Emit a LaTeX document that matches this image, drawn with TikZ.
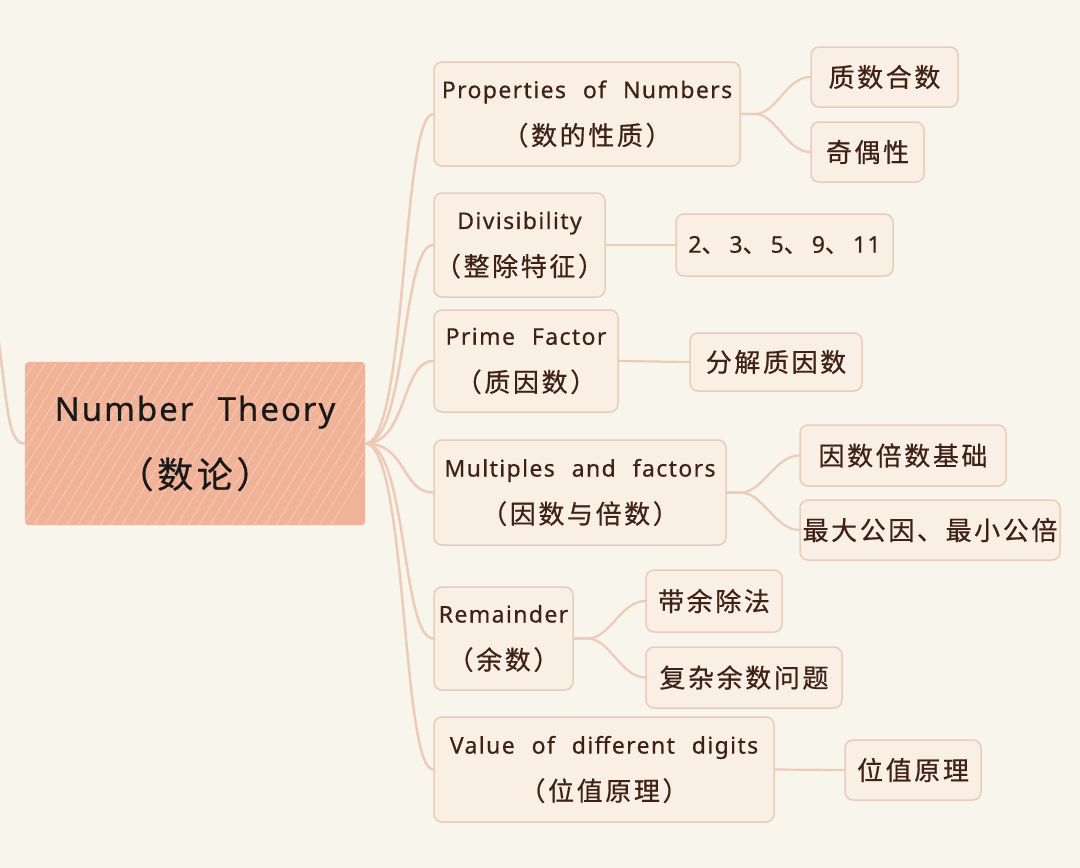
\documentclass[tikz,border=0pt]{standalone}
\usepackage{fontspec}
\usetikzlibrary{backgrounds}
\newfontfamily\enf{Noto Sans}[LetterSpace=6,WordSpace=2.3,FakeBold=0.5]
\newfontfamily\zhf{Noto Sans CJK SC}[LetterSpace=10,FakeBold=0.6]
\definecolor{bgcol}{HTML}{F8F5EC}
\definecolor{boxfill}{HTML}{FAEFE4}
\definecolor{boxline}{HTML}{E9CDB9}
\definecolor{conncol}{HTML}{EDCBB6}
\definecolor{rootcol}{HTML}{F0B397}
\definecolor{txtcol}{HTML}{3E2117}
\newcommand\twol[2]{{\enf\fontsize{23}{47}\selectfont #1}\\{\zhf\fontsize{26}{47}\selectfont #2}}
\newcommand\zh[1]{{\zhf\fontsize{26}{30}\selectfont #1}}
\newcommand\dun{{\zhf 、}\hspace{5pt}}
\tikzset{
  mainbox/.style={draw=boxline, line width=1.5pt, fill=boxfill, rounded corners=8pt,
    inner sep=0pt, align=center, text=txtcol, font=\fontsize{23}{47}\selectfont},
  leafbox/.style={draw=boxline, line width=1.5pt, fill=boxfill, rounded corners=8pt,
    inner sep=0pt, align=center, text=txtcol},
  rootbox/.style={inner sep=0pt, align=center, text=black!90, minimum width=340pt, minimum height=163pt,
    font=\fontsize{33}{67}\selectfont},
  conn/.style={draw=conncol, line width=2.5pt, line cap=round},
  subconn/.style={draw=conncol, line width=2.2pt, line cap=round},
}
\begin{document}
\begin{tikzpicture}[x=1pt,y=-1pt]
\useasboundingbox (0,0) rectangle (1080,868);
% root
\node[rootbox] (root) at (195,443.5) {{\enf Number Theory}\\{\zhf\fontsize{36}{67}\selectfont （数论）}};
\begin{scope}[on background layer]
  \fill[bgcol] (0,0) rectangle (1080,868);
  \fill[rootcol, rounded corners=4pt] (root.south west) rectangle (root.north east);
  \begin{scope}
    \clip (root.south west) rectangle (root.north east);
    \foreach \i in {0,...,36} {
      \draw[white, opacity=0.28, line width=0.9pt] ([xshift=\i*11pt-90pt]root.south west) -- ++(100,-163);
    }
  \end{scope}
\end{scope}
% first level
\node[mainbox, minimum width=306pt, minimum height=104pt] (p1) at (587,114) {\twol{Properties of Numbers}{（数的性质）}};
\node[mainbox, minimum width=171pt, minimum height=104pt] (p2) at (519.5,245) {\twol{Divisibility}{（整除特征）}};
\node[mainbox, minimum width=184pt, minimum height=102pt] (p3) at (526,361) {\twol{Prime Factor}{（质因数）}};
\node[mainbox, minimum width=292pt, minimum height=105pt] (p4) at (580,492.5) {\twol{Multiples and factors}{（因数与倍数）}};
\node[mainbox, minimum width=139pt, minimum height=103pt] (p5) at (503.5,638.5) {\twol{Remainder}{（余数）}};
\node[mainbox, minimum width=340pt, minimum height=105pt] (p6) at (604,769.5) {\twol{Value of different digits}{（位值原理）}};
% leaves
\node[leafbox, minimum width=147pt, minimum height=60pt] (p1a) at (884.5,77) {\zh{质数合数}};
\node[leafbox, minimum width=113pt, minimum height=60pt] (p1b) at (867.5,152) {\zh{奇偶性}};
\node[leafbox, minimum width=217pt, minimum height=62pt] (p2a) at (784.5,245) {{\enf\fontsize{23}{30}\selectfont 2\dun 3\dun 5\dun 9\dun 11}};
\node[leafbox, minimum width=172pt, minimum height=58pt] (p3a) at (776,362) {\zh{分解质因数}};
\node[leafbox, minimum width=206pt, minimum height=61pt] (p4a) at (903,455.5) {\zh{因数倍数基础}};
\node[leafbox, minimum width=260pt, minimum height=60pt] (p4b) at (930,530) {\zh{最大公因、最小公倍}};
\node[leafbox, minimum width=136pt, minimum height=62pt] (p5a) at (714,601) {\zh{带余除法}};
\node[leafbox, minimum width=196pt, minimum height=61pt] (p5b) at (744,677.5) {\zh{复杂余数问题}};
\node[leafbox, minimum width=136pt, minimum height=60pt] (p6a) at (913,770) {\zh{位值原理}};
% connectors from root
\coordinate (prev) at (-3,328);
\draw[conn] (prev) .. controls (8,410) and (8,443.5) .. (root.west);
\foreach \c in {p1,p2,p3,p4,p5,p6} {
  \draw[conn] (root.east) .. controls +(42,0) and +(-32,0) .. (\c.west);
}
% sub connectors
\draw[subconn] (p1.east) -- ++(14,0) .. controls +(22,0) and +(-24,0) .. (p1a.west);
\draw[subconn] (p1.east) -- ++(14,0) .. controls +(22,0) and +(-24,0) .. (p1b.west);
\draw[subconn] (p2.east) -- (p2a.west);
\draw[subconn] (p3.east) -- (p3a.west);
\draw[subconn] (p4.east) -- ++(14,0) .. controls +(22,0) and +(-24,0) .. (p4a.west);
\draw[subconn] (p4.east) -- ++(14,0) .. controls +(22,0) and +(-24,0) .. (p4b.west);
\draw[subconn] (p5.east) -- ++(14,0) .. controls +(22,0) and +(-24,0) .. (p5a.west);
\draw[subconn] (p5.east) -- ++(14,0) .. controls +(22,0) and +(-24,0) .. (p5b.west);
\draw[subconn] (p6.east) -- (p6a.west);
\end{tikzpicture}
\end{document}
